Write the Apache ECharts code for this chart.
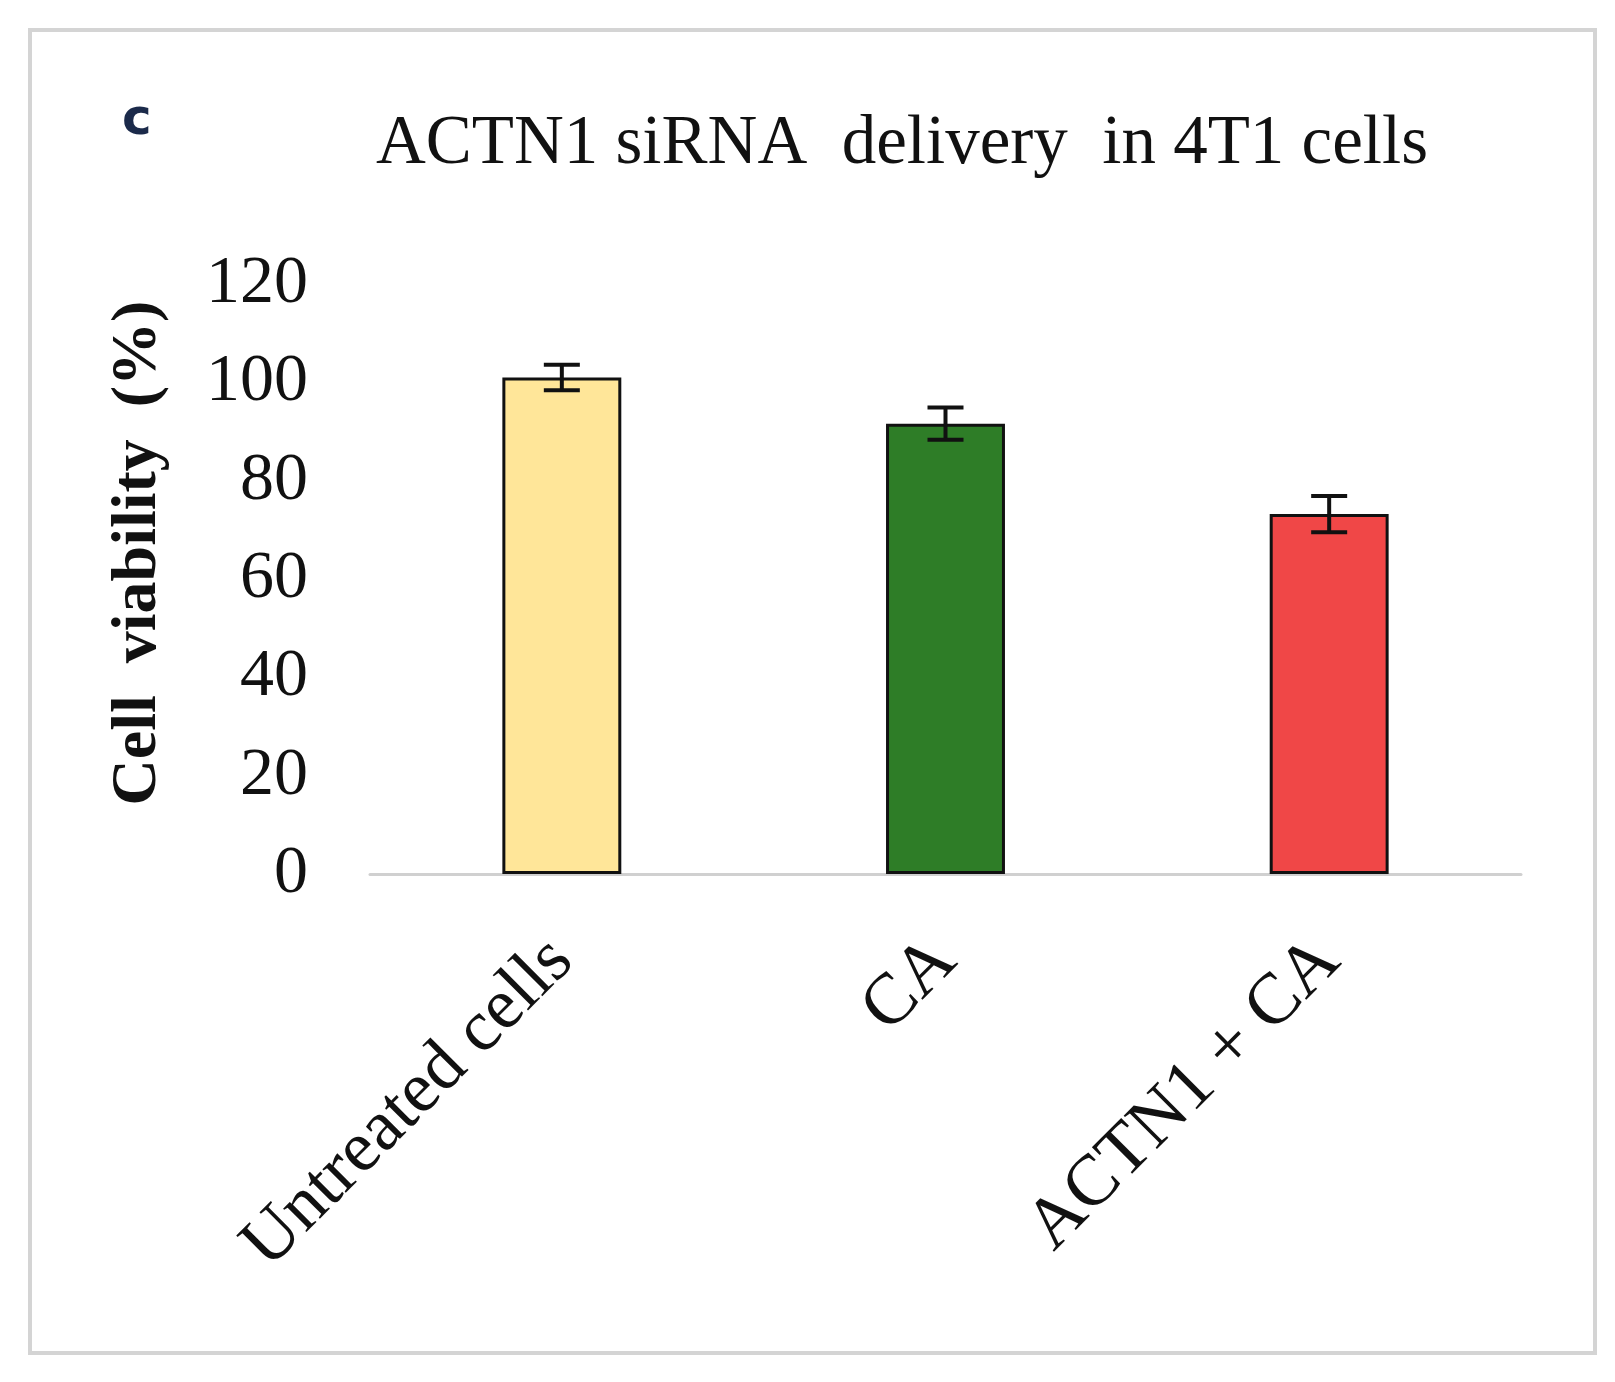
<!DOCTYPE html>
<html>
<head>
<meta charset="utf-8">
<title>ACTN1 siRNA delivery</title>
<style type="text/css">
    *{ margin:0; padding:0; }
    html,body{ width:100%; height:100%; background:#fff; }
    #main{ width:1615px; height:1382px; }
</style>
</head>
<body>
<div id="main"></div>
<script src="https://cdn.jsdelivr.net/npm/echarts@6/dist/echarts.min.js"></script>
<script type="text/javascript">
    // data
    var categories = ['Untreated cells', 'CA', 'ACTN1 + CA'];
    var viability = [101, 91.6, 73.2];
    var errors = [2.6, 3.3, 3.7];
    var barColors = ['#ffe699', '#2e7d27', '#f04747'];
    var yTicks = [0, 20, 40, 60, 80, 100, 120];

    var serif = '"Liberation Serif", "Times New Roman", serif';
    var chart = echarts.init(document.getElementById('main'));

    var option = {
        backgroundColor: '#fff',
        animation: false,
        title: {
            text: 'ACTN1 siRNA  delivery  in 4T1 cells',
            left: 897,
            top: 105,
            textAlign: 'center',
            textStyle: { fontFamily: serif, fontSize: 69, fontWeight: 'normal', color: '#111' }
        },
        graphic: [
            {//outer frame
                type: 'rect',
                shape: { x: 30, y: 30, width: 1565, height: 1323 },
                style: { fill: 'none', stroke: '#d4d4d4', lineWidth: 4 }
            },
            {//panel letter
                type: 'text',
                left: 122,
                top: 96,
                style: { text: 'c', font: 'bold 50px "DejaVu Sans", sans-serif', fill: '#1b2a4a' }
            }
        ],
        grid: { left: 370, right: 94, top: 284, bottom: 508 },
        xAxis: {
            type: 'category',
            data: categories,
            axisLine: { lineStyle: { color: '#d0d0d0', width: 3 } },
            axisTick: { show: false },
            axisLabel: {
                rotate: 45,
                margin: 76,
                fontFamily: serif,
                fontSize: 72,
                color: '#111'
            }
        },
        yAxis: {
            type: 'value',
            min: 0,
            max: 120,
            interval: 20,
            name: 'Cell  viability  (%)',
            nameLocation: 'middle',
            nameGap: 200,
            nameRotate: 90,
            nameTextStyle: {
                fontFamily: serif, fontSize: 64, fontWeight: 'bold', color: '#111',
                padding: [0, 0, 0, 52]
            },
            axisLine: { show: false },
            axisTick: { show: false },
            splitLine: { show: false },
            axisLabel: {
                margin: 62,
                fontFamily: serif,
                fontSize: 68,
                color: '#111',
                formatter: function (v) { return yTicks.indexOf(v) >= 0 ? String(v) : ''; }
            }
        },
        series: [
            {
                type: 'bar',
                barWidth: '31%',
                data: viability.map(function (v, i) {
                    return { value: v, itemStyle: { color: barColors[i] } };
                }),
                itemStyle: { borderColor: '#111', borderWidth: 3 }
            },
            {
                type: 'custom',
                data: viability.map(function (v, i) { return [i, v - errors[i], v + errors[i]]; }),
                renderItem: function (params, api) {
                    var lo = api.coord([api.value(0), api.value(1)]);
                    var hi = api.coord([api.value(0), api.value(2)]);
                    var half = 18;
                    var st = { stroke: '#111', lineWidth: 4 };
                    return {
                        type: 'group',
                        children: [
                            { type: 'line', shape: { x1: lo[0], y1: lo[1], x2: hi[0], y2: hi[1] }, style: st },
                            { type: 'line', shape: { x1: lo[0] - half, y1: lo[1], x2: lo[0] + half, y2: lo[1] }, style: st },
                            { type: 'line', shape: { x1: hi[0] - half, y1: hi[1], x2: hi[0] + half, y2: hi[1] }, style: st }
                        ]
                    };
                },
                z: 5
            }
        ]
    };
    chart.setOption(option);
</script>
</body>
</html>
